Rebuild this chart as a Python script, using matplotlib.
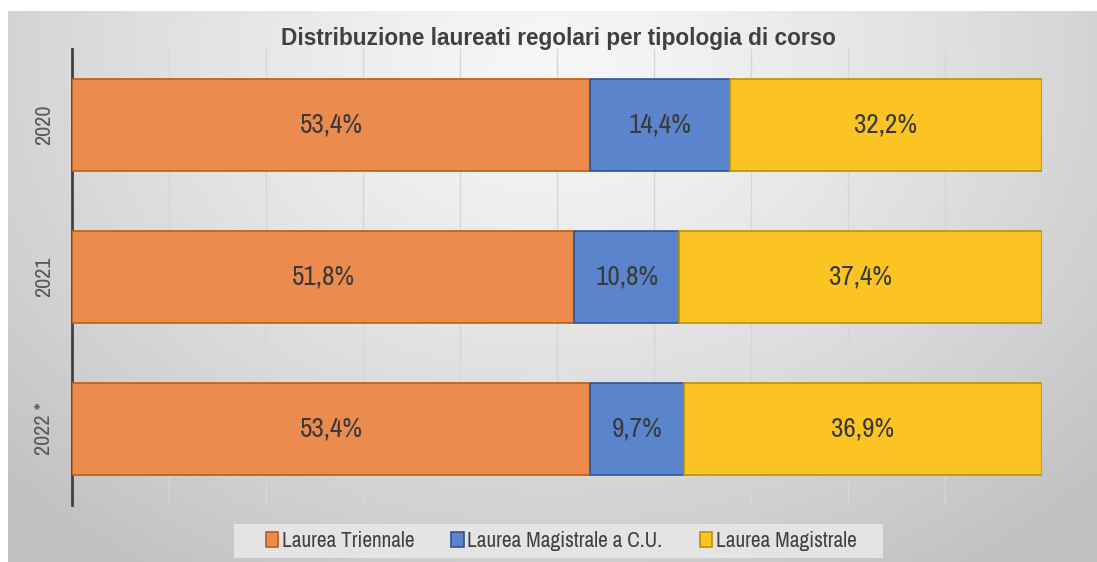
import numpy as np
import matplotlib.pyplot as plt
from matplotlib.patches import Patch, Rectangle

years = ["2020", "2021", "2022 *"]
series = ["Laurea Triennale", "Laurea Magistrale a C.U.", "Laurea Magistrale"]
triennale = [53.4, 51.8, 53.4]
magistrale_cu = [14.4, 10.8, 9.7]
magistrale = [32.2, 37.4, 36.9]
values = [triennale, magistrale_cu, magistrale]

fills = ["#EC8B4E", "#5A84CB", "#FBC423"]
edges = ["#C55A11", "#2F5597", "#BF9000"]

narrow = ["Liberation Sans Narrow", "Archivo Narrow", "PT Sans Narrow",
          "Roboto Condensed", "Barlow Condensed", "DejaVu Sans"]
W, H = 1097, 562
fig = plt.figure(figsize=(W / 100, H / 100), dpi=100)
fig.patch.set_facecolor("white")

# gray radial background of the chart area
bg = fig.add_axes([8 / W, 0, 1 - 8 / W, (H - 11) / H])
yy, xx = np.mgrid[0:1:300j, 0:1:600j]
r = np.sqrt(((xx - 0.5) / 0.7) ** 2 + ((yy - 0.1) / 1.1) ** 2)
shade = 0.965 - 0.21 * np.clip(r, 0, 1) ** 1.3
bg.imshow(shade, cmap="gray", vmin=0, vmax=1, aspect="auto", extent=[0, 1, 0, 1])
bg.set_axis_off()

ax = fig.add_axes([72 / W, (H - 505) / H, (1042 - 72) / W, (505 - 49) / H])
ax.patch.set_alpha(0)
y = np.arange(len(years))
left = np.zeros(len(years))
for vals, name, fc, ec in zip(values, series, fills, edges):
    bars = ax.barh(y, vals, left=left, height=0.605, color=fc, edgecolor=ec,
                   linewidth=1.2, label=name, zorder=3)
    for b, v in zip(bars, vals):
        ax.text(b.get_x() + b.get_width() / 2, b.get_y() + b.get_height() / 2,
                f"{v:.1f}%".replace(".", ","), ha="center", va="center",
                fontsize=19.5, color="#3a3a3a", family=narrow, zorder=4)
    left = left + np.array(vals)

ax.set_xlim(0, 100)
ax.set_ylim(2.5, -0.5)
ax.set_xticks(np.arange(0, 101, 10))
ax.set_xticklabels([])
ax.tick_params(axis="x", length=0)
ax.grid(axis="x", color="#d6d6d6", linewidth=1, zorder=0)
ax.set_yticks(y)
ax.set_yticklabels(years, rotation=90, va="center", fontsize=16,
                   color="#595959", family=narrow)
ax.tick_params(axis="y", length=0, pad=13)
for s in ["top", "right", "bottom"]:
    ax.spines[s].set_visible(False)
ax.spines["left"].set_color("#404040")
ax.spines["left"].set_linewidth(2)

fig.text(558 / W, 1 - 38 / H, "Distribuzione laureati regolari per tipologia di corso",
         ha="center", va="center", fontsize=16.3, fontweight="bold", color="#404040",
         family=["Liberation Sans", "DejaVu Sans"])

# legend box
fig.patches.append(Rectangle((234 / W, 1 - 558 / H), (883 - 234) / W, 34 / H,
                             transform=fig.transFigure, facecolor="#e4e4e4",
                             edgecolor="none", zorder=1))
handles = [Patch(facecolor=fc, edgecolor=ec, linewidth=1.2) for fc, ec in zip(fills, edges)]
leg = fig.legend(handles, series, loc="center", bbox_to_anchor=(561 / W, 1 - 541 / H),
                 ncol=3, frameon=False, handlelength=0.6,
                 handleheight=0.75, handletextpad=0.15, columnspacing=1.75,
                 prop={"family": narrow, "size": 15.3}, borderpad=0.3)
leg.set_zorder(2)
for t in leg.get_texts():
    t.set_color("#404040")

fig.savefig("out.png", dpi=100)
